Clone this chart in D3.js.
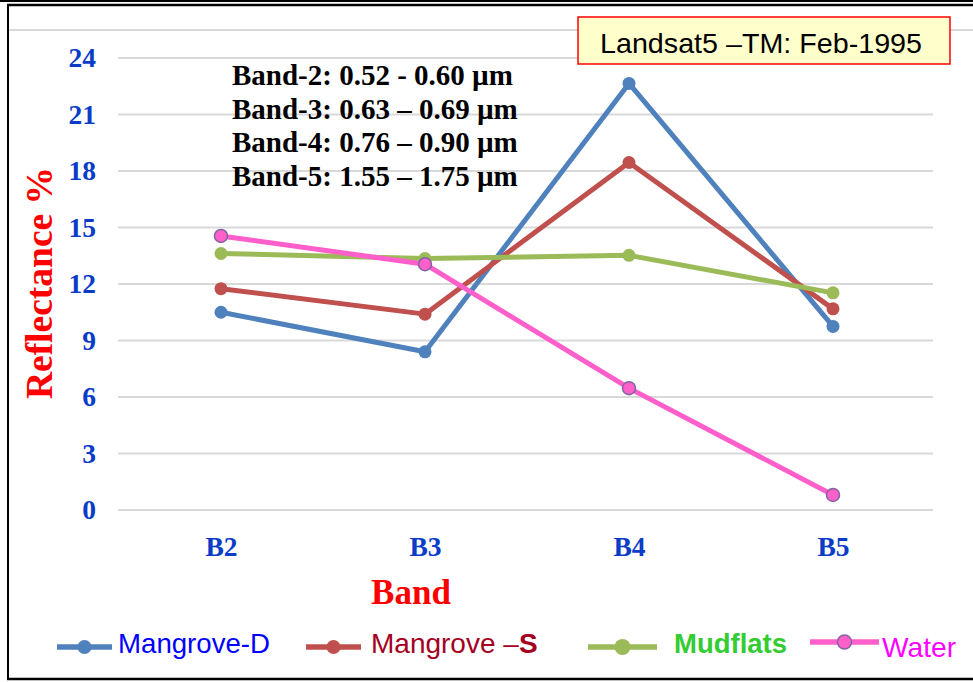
<!DOCTYPE html>
<html>
<head>
<meta charset="utf-8">
<script src="https://cdn.jsdelivr.net/npm/d3@7"></script>
<style>
    html, body { margin: 0; padding: 0; background: #fff; }
    svg { display: block; }
</style>
</head>
<body>
<div id="chart"></div>
<script>
//Datos
const bands = ['B2', 'B3', 'B4', 'B5'];
const mangroveD = [10.5, 8.4, 22.65, 9.75];
const mangroveS = [11.75, 10.4, 18.45, 10.68];
const mudflats = [13.62, 13.35, 13.52, 11.53];
const water = [14.55, 13.05, 6.47, 0.8];
const yTicks = [0, 3, 6, 9, 12, 15, 18, 21, 24];
const bandNotes = ['Band-2: 0.52 - 0.60 µm', 'Band-3: 0.63 – 0.69 µm', 'Band-4: 0.76 – 0.90 µm', 'Band-5: 1.55 – 1.75 µm'];

//Colores
const COLOR_BLUE = '#4F81BD',
    COLOR_RED = '#C0504D',
    COLOR_GREEN = '#9BBB59',
    COLOR_PINK = '#FF5FCB',
    COLOR_AXIS = '#0A3CC8';

const series = [
    { name: 'Mangrove-D', values: mangroveD, color: COLOR_BLUE, stroke: COLOR_BLUE },
    { name: 'Mangrove-S', values: mangroveS, color: COLOR_RED, stroke: COLOR_RED },
    { name: 'Mudflats', values: mudflats, color: COLOR_GREEN, stroke: COLOR_GREEN },
    { name: 'Water', values: water, color: COLOR_PINK, stroke: '#8064A2' }
];

const width = 973, height = 682;
const SERIF = '"Liberation Serif", "Times New Roman", serif',
    SANS = '"Liberation Sans", Arial, sans-serif';

let svg = d3.select('#chart')
    .append('svg')
    .attr('width', width)
    .attr('height', height);

//Marco
svg.append('line').attr('x1', 0).attr('x2', width).attr('y1', 1).attr('y2', 1)
    .attr('stroke', '#000').attr('stroke-width', 2);
svg.append('line').attr('x1', 7).attr('x2', width).attr('y1', 5).attr('y2', 5)
    .attr('stroke', '#000').attr('stroke-width', 2.5);
svg.append('line').attr('x1', 8).attr('x2', 8).attr('y1', 4).attr('y2', 680)
    .attr('stroke', '#000').attr('stroke-width', 2);
svg.append('line').attr('x1', 7).attr('x2', width).attr('y1', 679).attr('y2', 679)
    .attr('stroke', '#000').attr('stroke-width', 2.5);
svg.append('line').attr('x1', 9).attr('x2', width).attr('y1', 30).attr('y2', 30)
    .attr('stroke', '#D9D9D9').attr('stroke-width', 2);

//Escalas
let x = d3.scalePoint()
    .domain(bands)
    .range([221, 833]);

let y = d3.scaleLinear()
    .domain([0, 24])
    .range([510, 58]);

//Rejilla
svg.append('g')
    .selectAll('line')
    .data(yTicks)
    .enter()
    .append('line')
    .attr('x1', 118)
    .attr('x2', 933)
    .attr('y1', function(d) { return y(d); })
    .attr('y2', function(d) { return y(d); })
    .attr('stroke', '#D9D9D9')
    .attr('stroke-width', 2);

//Eje Y
let yAxis = function(g) {
    g.call(d3.axisLeft(y).tickValues(yTicks).tickSize(0).tickPadding(0));
    g.call(function(g) { g.select('.domain').remove(); });
    g.selectAll('text')
        .attr('fill', COLOR_AXIS)
        .attr('font-family', SERIF)
        .attr('font-weight', 'bold')
        .attr('font-size', 27.5);
};

svg.append('g')
    .attr('transform', 'translate(96,0)')
    .call(yAxis);

//Eje X
let xAxis = function(g) {
    g.call(d3.axisBottom(x).tickSize(0).tickPadding(0));
    g.call(function(g) { g.select('.domain').remove(); });
    g.selectAll('text')
        .attr('fill', COLOR_AXIS)
        .attr('font-family', SERIF)
        .attr('font-weight', 'bold')
        .attr('font-size', 27.5)
        .attr('dy', null)
        .attr('y', 556);
};

svg.append('g')
    .call(xAxis);

//Títulos de ejes
svg.append('text')
    .attr('transform', 'translate(52,283) rotate(-90)')
    .attr('text-anchor', 'middle')
    .attr('fill', '#FF0000')
    .attr('font-family', SERIF)
    .attr('font-weight', 'bold')
    .attr('font-size', 37.5)
    .text('Reflectance %');

svg.append('text')
    .attr('x', 411)
    .attr('y', 604)
    .attr('text-anchor', 'middle')
    .attr('fill', '#FF0000')
    .attr('font-family', SERIF)
    .attr('font-weight', 'bold')
    .attr('font-size', 35)
    .text('Band');

//Notas de bandas
svg.append('g')
    .selectAll('text')
    .data(bandNotes)
    .enter()
    .append('text')
    .attr('x', 232)
    .attr('y', function(d, i) { return 85 + i * 33.5; })
    .attr('fill', '#000')
    .attr('font-family', SERIF)
    .attr('font-weight', 'bold')
    .attr('font-size', 29)
    .text(function(d) { return d; });

//Caja Landsat
svg.append('rect')
    .attr('x', 578)
    .attr('y', 17)
    .attr('width', 372)
    .attr('height', 47)
    .attr('fill', '#FFFFCC')
    .attr('stroke', '#FF0000')
    .attr('stroke-width', 1.5);

svg.append('text')
    .attr('x', 600)
    .attr('y', 53)
    .attr('fill', '#000')
    .attr('font-family', SANS)
    .attr('font-size', 28)
    .attr('textLength', 322)
    .attr('lengthAdjust', 'spacingAndGlyphs')
    .text('Landsat5 –TM: Feb-1995');

//Líneas
let line = d3.line()
    .x(function(d, i) { return x(bands[i]); })
    .y(function(d) { return y(d); });

series.forEach(function(s) {
    svg.append('path')
        .datum(s.values)
        .attr('fill', 'none')
        .attr('stroke', s.color)
        .attr('stroke-width', 5)
        .attr('stroke-linejoin', 'round')
        .attr('d', line);

    svg.append('g')
        .selectAll('circle')
        .data(s.values)
        .enter()
        .append('circle')
        .attr('cx', function(d, i) { return x(bands[i]); })
        .attr('cy', function(d) { return y(d); })
        .attr('r', 6.5)
        .attr('fill', s.color)
        .attr('stroke', s.stroke)
        .attr('stroke-width', s.name == 'Water' ? 1.5 : 0);
});

//Leyenda
const legendItems = [
    { x1: 57, x2: 112, y: 647, color: COLOR_BLUE, stroke: COLOR_BLUE },
    { x1: 306, x2: 361, y: 647, color: COLOR_RED, stroke: COLOR_RED },
    { x1: 588, x2: 657, y: 647, color: COLOR_GREEN, stroke: COLOR_GREEN },
    { x1: 810, x2: 879, y: 642, color: COLOR_PINK, stroke: '#8064A2' }
];

let legend = svg.append('g');

legendItems.forEach(function(l, i) {
    legend.append('line')
        .attr('x1', l.x1).attr('x2', l.x2)
        .attr('y1', l.y).attr('y2', l.y)
        .attr('stroke', l.color)
        .attr('stroke-width', 5.5);
    legend.append('circle')
        .attr('cx', (l.x1 + l.x2) / 2)
        .attr('cy', l.y)
        .attr('r', i == 2 ? 8 : 7)
        .attr('fill', l.color)
        .attr('stroke', l.stroke)
        .attr('stroke-width', i == 3 ? 1.5 : 0);
});

legend.append('text')
    .attr('x', 118).attr('y', 653)
    .attr('fill', '#0000FF')
    .attr('font-family', SANS)
    .attr('font-size', 28)
    .attr('textLength', 152)
    .attr('lengthAdjust', 'spacingAndGlyphs')
    .text('Mangrove-D');

let ms = legend.append('text')
    .attr('x', 371).attr('y', 653)
    .attr('fill', '#A50021')
    .attr('font-family', SANS)
    .attr('font-size', 28);
ms.append('tspan').text('Mangrove –');
ms.append('tspan').attr('font-weight', 'bold').text('S');

legend.append('text')
    .attr('x', 674).attr('y', 653)
    .attr('fill', '#33CC33')
    .attr('font-family', SANS)
    .attr('font-weight', 'bold')
    .attr('font-size', 28)
    .attr('textLength', 113)
    .attr('lengthAdjust', 'spacingAndGlyphs')
    .text('Mudflats');

legend.append('text')
    .attr('x', 882).attr('y', 657)
    .attr('fill', '#FF00FF')
    .attr('font-family', SANS)
    .attr('font-size', 28)
    .attr('textLength', 74)
    .attr('lengthAdjust', 'spacingAndGlyphs')
    .text('Water');
</script>
</body>
</html>
